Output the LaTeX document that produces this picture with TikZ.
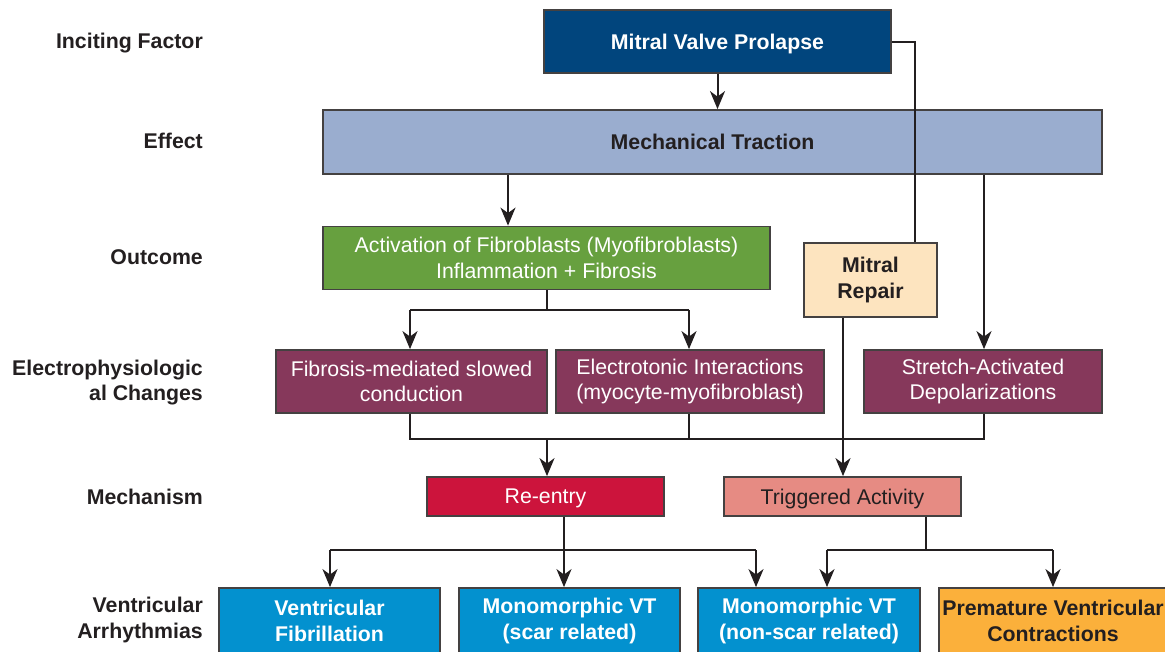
\documentclass[tikz,border=0pt]{standalone}
\usepackage{fontspec}
\setmainfont{Liberation Sans}
\usetikzlibrary{arrows.meta,calc}
\definecolor{mvp}{HTML}{01457D}
\definecolor{mt}{HTML}{9AADCF}
\definecolor{act}{HTML}{67A03F}
\definecolor{mr}{HTML}{FDE4BF}
\definecolor{purp}{HTML}{86385B}
\definecolor{reen}{HTML}{CC143C}
\definecolor{trig}{HTML}{E68B83}
\definecolor{arrb}{HTML}{0391CF}
\definecolor{pvc}{HTML}{FBB03B}
\definecolor{ink}{HTML}{231F20}
\begin{document}
\begin{tikzpicture}[x=1pt,y=-1pt,
  box/.style={draw=ink!85,line width=1.8pt,rectangle,align=center,inner sep=0pt,
    font=\fontsize{21.3}{25.5}\selectfont},
  one/.style={text depth=0pt},
  wt/.style={text=white},
  dk/.style={text=ink},
  bf/.style={font=\fontsize{21.3}{25.5}\selectfont\bfseries},
  lab/.style={anchor=east,align=right,text=ink,inner sep=0pt,font=\fontsize{21.3}{25.5}\selectfont\bfseries},
  conn/.style={draw=ink,line width=2pt},
  arr/.style={conn,-{Stealth[length=18pt,width=15pt,inset=5.5pt]}}]
\useasboundingbox (0,0) rectangle (1165,651);
\begin{scope}
\clip (0,0) rectangle (1165,651);
% left labels
\node[lab,one] (l1) at (203,41) {Inciting Factor};
\node[lab,one] (l2) at (203,141) {Effect};
\node[lab,one] (l3) at (203,257) {Outcome};
\node[lab] (l4) at (203,382.5) {Electrophysiologic\\al Changes};
\node[lab,one] (l5) at (203,497) {Mechanism};
\node[lab] (l6) at (203,620) {Ventricular\\Arrhythmias};
% boxes
\node[box,one,fill=mvp,wt,bf,minimum width=347,minimum height=63] (mvp) at (717.5,41.5) {Mitral Valve Prolapse};
\node[box,one,fill=mt,dk,bf,minimum width=779,minimum height=64] (mt) at (712.5,142) {Mechanical Traction};
\node[box,fill=act,wt,minimum width=447,minimum height=63] (act) at (546.5,258) {Activation of Fibroblasts (Myofibroblasts)\\Inflammation + Fibrosis};
\node[box,fill=mr,dk,bf,minimum width=133,minimum height=74] (mr) at (870.5,280) {Mitral\\Repair};
\node[box,fill=purp,wt,minimum width=271,minimum height=63] (fib) at (411.5,381.5) {Fibrosis-mediated slowed\\conduction};
\node[box,fill=purp,wt,minimum width=268,minimum height=63] (ele) at (690,381.5) {Electrotonic Interactions\\(myocyte-myofibroblast)};
\node[box,fill=purp,wt,minimum width=238,minimum height=63] (str) at (983,381.5) {Stretch-Activated\\Depolarizations};
\node[box,one,fill=reen,wt,minimum width=237,minimum height=39] (re) at (545.5,496.5) {Re-entry};
\node[box,one,fill=trig,dk,minimum width=237,minimum height=39] (tr) at (842.5,496.5) {Triggered Activity};
\node[box,fill=arrb,wt,bf,minimum width=221,minimum height=66] (vf) at (329.5,621) {Ventricular\\Fibrillation};
\node[box,fill=arrb,wt,bf,minimum width=221,minimum height=66] (ms) at (569.5,621) {Monomorphic VT\\(scar related)};
\node[box,fill=arrb,wt,bf,minimum width=222,minimum height=66] (mn) at (809,621) {Monomorphic VT\\(non-scar related)};
\node[box,fill=pvc,dk,bf,minimum width=228,minimum height=66] (pv) at (1053,621) {Premature Ventricular\\Contractions};
% helper coordinates
\coordinate (x330) at (330,0);
\coordinate (x410) at (410,0);
\coordinate (x508) at (508,0);
\coordinate (x547) at (547,0);
\coordinate (x564) at (564,0);
\coordinate (x689) at (689,0);
\coordinate (x756) at (756,0);
\coordinate (x827) at (827,0);
\coordinate (x843) at (843,0);
\coordinate (x915) at (915,0);
\coordinate (x926) at (926,0);
\coordinate (x984) at (984,0);
\coordinate (x1053) at (1053,0);
\coordinate (y310) at (0,310);
\coordinate (y439) at (0,439);
\coordinate (y550) at (0,550);
% connectors
\draw[arr] (mvp.south) -- (mvp.south |- mt.north);
\draw[conn] (mvp.east) -| (mr.north -| x915);
\draw[arr] (mt.south -| x508) -- (act.north -| x508);
\draw[arr] (mt.south -| x984) -- (str.north -| x984);
\draw[conn] (act.south -| x547) -- (x547 |- y310);
\draw[conn] (x410 |- y310) -- (x689 |- y310);
\draw[arr] (x410 |- y310) -- (fib.north -| x410);
\draw[arr] (x689 |- y310) -- (ele.north -| x689);
\draw[conn] (fib.south -| x410) -- (x410 |- y439) -- (x984 |- y439) -- (str.south -| x984);
\draw[conn] (ele.south -| x689) -- (x689 |- y439);
\draw[arr] (x547 |- y439) -- (re.north -| x547);
\draw[arr] (mr.south -| x843) -- (tr.north -| x843);
\draw[conn] (re.south -| x564) -- (x564 |- y550);
\draw[conn] (x330 |- y550) -- (x756 |- y550);
\draw[arr] (x330 |- y550) -- (vf.north -| x330);
\draw[arr] (x564 |- y550) -- (ms.north -| x564);
\draw[arr] (x756 |- y550) -- (mn.north -| x756);
\draw[conn] (tr.south -| x926) -- (x926 |- y550);
\draw[conn] (x827 |- y550) -- (x1053 |- y550);
\draw[arr] (x827 |- y550) -- (mn.north -| x827);
\draw[arr] (x1053 |- y550) -- (pv.north -| x1053);
\end{scope}
\end{tikzpicture}
\end{document}
